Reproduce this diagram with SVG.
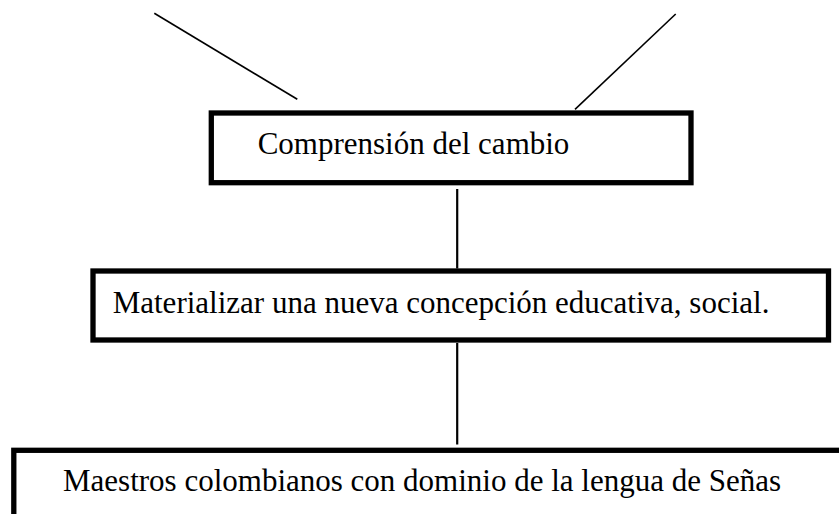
<svg xmlns="http://www.w3.org/2000/svg" width="839" height="514" viewBox="0 0 839 514">
<style>
.box{fill:#fff;stroke:#000;stroke-width:5.3}
.lbl{font-family:"Liberation Serif","Times New Roman",serif;font-size:31px;fill:#000}
.conn line{stroke:#000;stroke-width:1.6}
</style>
<rect x="0" y="0" width="839" height="514" fill="#fff"/>
<g id="connectors" class="conn">
<line x1="154.3" y1="13.3" x2="297.3" y2="99.3"/>
<line x1="675.7" y1="14" x2="575" y2="109.3"/>
<line x1="457.2" y1="189" x2="457.2" y2="268.5" style="stroke-width:2.2"/>
<line x1="457.2" y1="343" x2="457.2" y2="444.5" style="stroke-width:2.2"/>
</g>
<g id="node-comprension">
<rect class="box" x="211.3" y="113" width="479.7" height="69.7"/>
<text class="lbl" x="257.7" y="154">Comprensión del cambio</text>
</g>
<g id="node-materializar">
<rect class="box" x="93" y="271" width="735.5" height="69"/>
<text class="lbl" x="112.7" y="313">Materializar una nueva concepción educativa, social.</text>
</g>
<g id="node-maestros">
<rect class="box" x="13.8" y="450.3" width="840" height="80"/>
<text class="lbl" x="63" y="491">Maestros colombianos con dominio de la lengua de Señas</text>
</g>
</svg>
